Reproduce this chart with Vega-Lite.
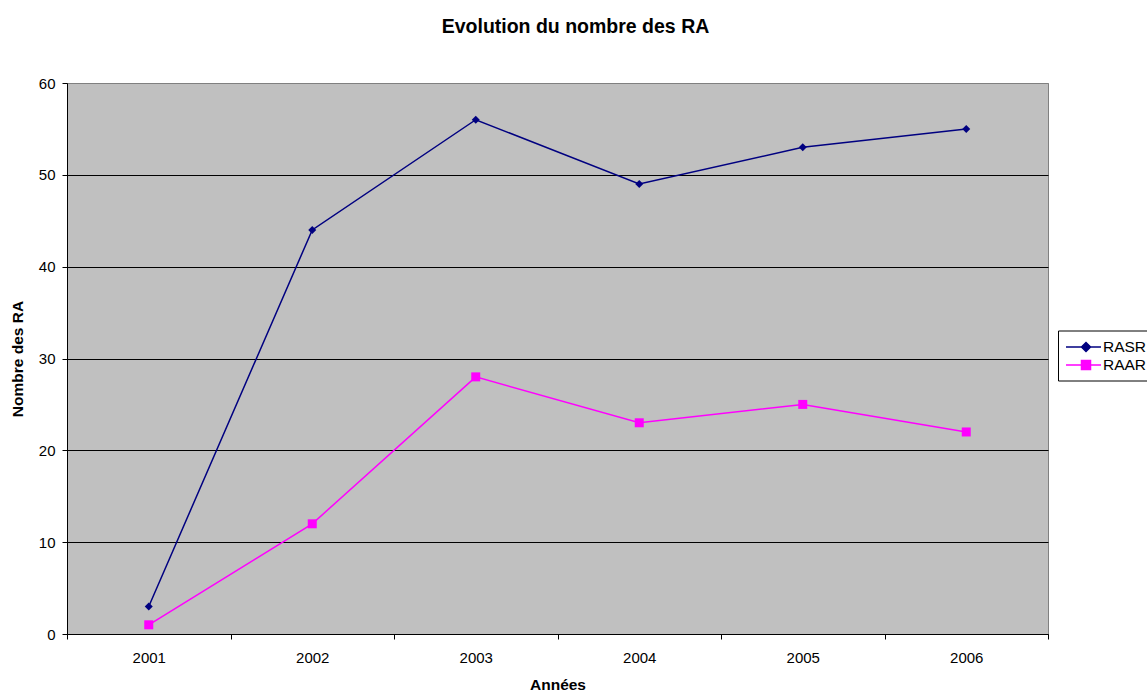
{
  "$schema": "https://vega.github.io/schema/vega-lite/v6.json",
  "width": 981,
  "height": 551,
  "autosize": {"type": "none"},
  "padding": {"left": 67, "top": 83, "right": 99, "bottom": 57},
  "background": "white",
  "title": {
    "text": "Evolution du nombre des RA",
    "font": "Liberation Sans",
    "fontSize": 19.5,
    "fontWeight": "bold",
    "color": "black",
    "anchor": "middle",
    "frame": "group",
    "dx": 18,
    "offset": 39
  },
  "config": {
    "view": {"fill": "#C0C0C0", "stroke": "#808080", "strokeWidth": 1},
    "font": "Liberation Sans",
    "axis": {
      "labelFont": "Liberation Sans",
      "titleFont": "Liberation Sans",
      "labelColor": "black",
      "titleColor": "black",
      "domainColor": "black",
      "tickColor": "black",
      "tickSize": 5,
      "labelFontSize": 15,
      "titleFontSize": 15.5,
      "titleFontWeight": "bold"
    }
  },
  "data": {
    "values": [
      {"year": "2001", "series": "RASR", "value": 3},
      {"year": "2002", "series": "RASR", "value": 44},
      {"year": "2003", "series": "RASR", "value": 56},
      {"year": "2004", "series": "RASR", "value": 49},
      {"year": "2005", "series": "RASR", "value": 53},
      {"year": "2006", "series": "RASR", "value": 55},
      {"year": "2001", "series": "RAAR", "value": 1},
      {"year": "2002", "series": "RAAR", "value": 12},
      {"year": "2003", "series": "RAAR", "value": 28},
      {"year": "2004", "series": "RAAR", "value": 23},
      {"year": "2005", "series": "RAAR", "value": 25},
      {"year": "2006", "series": "RAAR", "value": 22}
    ]
  },
  "encoding": {
    "x": {
      "field": "year",
      "type": "ordinal",
      "bandPosition": 0.5,
      "scale": {"type": "band", "paddingInner": 0, "paddingOuter": 0},
      "axis": {
        "title": "Années",
        "labelAngle": 0,
        "tickBand": "extent",
        "labelPadding": 11,
        "titlePadding": 12,
        "grid": false
      }
    },
    "y": {
      "field": "value",
      "type": "quantitative",
      "scale": {"domain": [0, 60], "nice": false},
      "axis": {
        "title": "Nombre des RA",
        "values": [0, 10, 20, 30, 40, 50, 60],
        "labelPadding": 7,
        "titlePadding": 13,
        "grid": true,
        "gridColor": {"condition": {"test": "datum.value == 60", "value": "#808080"}, "value": "black"},
        "gridWidth": 1,
        "gridOpacity": 1
      }
    },
    "color": {
      "field": "series",
      "type": "nominal",
      "scale": {"domain": ["RASR", "RAAR"], "range": ["#000080", "#FF00FF"]},
      "legend": {
        "title": null,
        "orient": "none",
        "legendX": 991,
        "legendY": 247.5,
        "strokeColor": "black",
        "fillColor": "white",
        "padding": 7,
        "rowPadding": 0,
        "labelFont": "Liberation Sans",
        "labelFontSize": 15.5,
        "labelColor": "black",
        "labelOffset": 19,
        "symbolSize": 289,
        "symbolStrokeWidth": 1.5,
        "encode": {
          "symbols": {
            "update": {
              "shape": {"signal": "datum.value === 'RASR' ? 'M-1,0H3.118M0.82,0L1.353,-0.53L1.886,0L1.353,0.53Z' : 'M-1,0H3.118M0.823,-0.53H1.883V0.53H0.823Z'"},
              "fill": {"signal": "datum.value === 'RASR' ? '#000080' : '#FF00FF'"},
              "stroke": {"signal": "datum.value === 'RASR' ? '#000080' : '#FF00FF'"},
              "strokeWidth": {"value": 1.5},
              "opacity": {"value": 1},
              "fillOpacity": {"value": 1}
            }
          }
        }
      }
    }
  },
  "layer": [
    {
      "mark": {"type": "line", "strokeWidth": 1.5}
    },
    {
      "transform": [{"filter": "datum.series === 'RASR'"}],
      "mark": {"type": "point", "filled": true, "opacity": 1, "shape": "diamond", "size": 64}
    },
    {
      "transform": [{"filter": "datum.series === 'RAAR'"}],
      "mark": {"type": "point", "filled": true, "opacity": 1, "shape": "square", "size": 81}
    }
  ]
}
